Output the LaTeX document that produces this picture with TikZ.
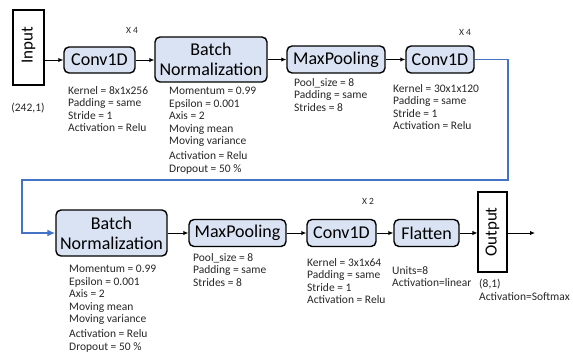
\documentclass[tikz,border=0pt]{standalone}
\usepackage{fontspec}
\setmainfont{Carlito}
\usetikzlibrary{arrows.meta}
\definecolor{boxfill}{HTML}{DAE3F3}
\definecolor{linkblue}{HTML}{4472C4}
\definecolor{paramgray}{HTML}{262626}
\tikzset{
  layer/.style={draw=black, line width=1.4pt, fill=boxfill, rounded corners=5pt,
    inner sep=0pt, font=\fontsize{18}{20}\selectfont, align=center},
  iobox/.style={draw=black, line width=1.1pt, fill=white, inner sep=0pt},
  iolabel/.style={rotate=90, inner sep=0pt, font=\fontsize{17}{19}\selectfont},
  param/.style={anchor=north west, inner sep=0pt, align=left, text=paramgray,
    font=\fontsize{11.5}{12.5}\selectfont},
  shape info/.style={inner sep=0pt, text=paramgray, font=\fontsize{11.5}{12.5}\selectfont},
  rep/.style={inner sep=0pt, text=paramgray, font=\fontsize{9.5}{10}\selectfont},
  flow/.style={line width=1pt, -{Latex[length=5pt,width=4.5pt]}},
  back/.style={draw=linkblue, line width=1.5pt, -{Latex[length=8pt,width=7pt]}}
}
\begin{document}
\begin{tikzpicture}[x=1pt,y=-1pt]
\useasboundingbox (0,0) rectangle (573,354);

% ---- first row ----
\node[iobox, minimum width=31pt, minimum height=75pt] (in) at (28.5,47.5) {};
\node[iolabel] at (28.5,45) {Input};
\node[shape info] at (28,108) {(242,1)};

\node[layer, minimum width=71pt, minimum height=26pt] (c1) at (99.5,60) {Conv1D};
\node[rep] at (132,30) {X 4};
\node[param] at (68,86) {Kernel = 8x1x256\\Padding = same\\Stride = 1\\Activation = Relu};

\node[layer, minimum width=112pt, minimum height=45pt] (bn1) at (211,59.5) {Batch\\Normalization};
\node[param] at (169,87) {Momentum = 0.99\\Epsilon = 0.001\\Axis = 2\\Moving mean\\Moving variance\\[2.5pt]Activation = Relu\\Dropout = 50 \%};

\node[layer, minimum width=98pt, minimum height=27pt] (mp1) at (336,59.5) {MaxPooling};
\node[param] at (294,78) {Pool\_size = 8\\Padding = same\\Strides = 8};

\node[layer, minimum width=68pt, minimum height=27pt] (c2) at (440,59.5) {Conv1D};
\node[rep] at (465,32) {X 4};
\node[param] at (393,84) {Kernel = 30x1x120\\Padding = same\\Stride = 1\\Activation = Relu};

\draw[flow] (in.east |- c1.west) -- (c1.west);
\draw[flow] (c1.east) -- (c1.east -| bn1.west);
\draw[flow] (bn1.east |- mp1.west) -- (mp1.west);
\draw[flow] (mp1.east) -- (c2.west);

% ---- second row ----
\node[layer, minimum width=111pt, minimum height=46pt] (bn2) at (111.5,233) {Batch\\Normalization};
\node[param] at (69,265) {Momentum = 0.99\\Epsilon = 0.001\\Axis = 2\\Moving mean\\Moving variance\\[2.5pt]Activation = Relu\\Dropout = 50 \%};

\node[layer, minimum width=97pt, minimum height=27pt] (mp2) at (237.5,233) {MaxPooling};
\node[param] at (193,253) {Pool\_size = 8\\Padding = same\\Strides = 8};

\node[layer, minimum width=69pt, minimum height=27pt] (c3) at (341.5,233) {Conv1D};
\node[rep] at (368,201) {X 2};
\node[param] at (307,258) {Kernel = 3x1x64\\Padding = same\\Stride = 1\\Activation = Relu};

\node[layer, minimum width=65pt, minimum height=27pt] (fl) at (426.5,233) {Flatten};
\node[param] at (392,266) {Units=8\\Activation=linear};

\node[iobox, minimum width=29pt, minimum height=80pt] (out) at (492.5,232) {};
\node[iolabel] at (out.center) {Output};
\node[param] at (479,279) {(8,1)\\Activation=Softmax};
\coordinate (end) at (535,233);

\draw[flow] (bn2.east) -- (mp2.west);
\draw[flow] (mp2.east) -- (c3.west);
\draw[flow] (c3.east) -- (fl.west);
\draw[flow] (fl.east) -- (fl.east -| out.west);
\draw[flow] (fl.east -| out.east) -- (end);

% ---- wrap-around link between the rows ----
\coordinate (r1) at (508,59.5);
\coordinate (r2) at (508,180);
\coordinate (l1) at (22,180);
\coordinate (l2) at (22,233);
\draw[back] (c2.east) -- (r1) -- (r2) -- (l1) -- (l2) -- (bn2.west);
\end{tikzpicture}
\end{document}
